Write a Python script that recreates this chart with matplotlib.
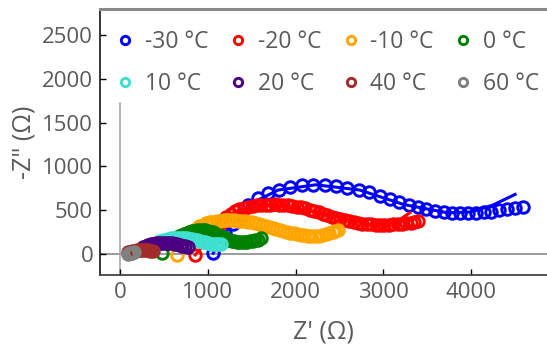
import matplotlib
matplotlib.use("Agg")
import matplotlib.pyplot as plt

plt.rcParams['font.family'] = ['Open Sans', 'DejaVu Sans']

labels = ['-30 °C', '-20 °C', '-10 °C', '0 °C', '10 °C', '20 °C', '40 °C', '60 °C']
colors = ['#0000ff', '#ff0000', '#ffa500', '#008000', '#40e0d0', '#4b0082', '#a52a2a', '#808080']

# measured points, Z' and -Z'' in ohm
zre_m30 = [1060, 1195, 1290, 1380, 1460, 1570, 1690, 1810, 1940, 2070, 2200, 2330, 2460, 2590,
           2720, 2840, 2960, 3070, 3180, 3290, 3390, 3490, 3590, 3690, 3780, 3870, 3960, 4050,
           4140, 4230, 4320, 4410, 4500, 4590]
zim_m30 = [10, 240, 340, 450, 560, 640, 695, 735, 765, 782, 790, 787, 775, 757,
           733, 703, 665, 628, 592, 560, 533, 510, 492, 478, 470, 465, 465, 468,
           474, 484, 497, 510, 522, 533]

zre_m20 = [855, 1105, 1160, 1210, 1260, 1310, 1360, 1410, 1460, 1510, 1560, 1610, 1660, 1710,
           1760, 1810, 1860, 1910, 1960, 2010, 2060, 2110, 2160, 2210, 2260, 2310, 2360, 2410,
           2460, 2510, 2560, 2610, 2660, 2710, 2760, 2810, 2860, 2910, 2960, 3010, 3060, 3110,
           3160, 3210, 3260, 3310, 3350, 3390]
zim_m20 = [-10, 275, 360, 420, 460, 488, 508, 524, 537, 547, 554, 559, 562, 564,
           565, 564, 561, 556, 550, 542, 532, 520, 507, 492, 476, 460, 444, 428,
           413, 399, 386, 375, 365, 356, 348, 342, 337, 334, 333, 333, 335, 338,
           342, 347, 353, 359, 365, 372]

zre_m10 = [650, 780, 820, 860, 900, 940, 980, 1020, 1060, 1100, 1140, 1180, 1220, 1260,
           1300, 1340, 1380, 1420, 1460, 1500, 1540, 1580, 1620, 1660, 1700, 1740, 1780, 1820,
           1860, 1900, 1940, 1980, 2020, 2060, 2100, 2140, 2180, 2220, 2260, 2300, 2340, 2380,
           2420, 2450, 2480]
zim_m10 = [-10, 215, 260, 290, 315, 335, 350, 360, 368, 375, 380, 383, 385, 385,
           384, 382, 379, 375, 369, 362, 354, 345, 335, 325, 313, 300, 289, 278,
           266, 255, 245, 235, 227, 220, 214, 210, 206, 205, 208, 215, 225, 237,
           250, 263, 278]

zre_0 = [480, 580, 610, 640, 670, 700, 730, 760, 790, 820, 850, 880, 910, 940,
         970, 1000, 1030, 1060, 1090, 1120, 1150, 1180, 1210, 1240, 1270, 1300, 1330, 1360,
         1390, 1420, 1450, 1480, 1510, 1540, 1570, 1600]
zim_0 = [10, 135, 160, 182, 200, 216, 230, 243, 254, 262, 268, 272, 274, 273,
         270, 264, 256, 246, 234, 220, 206, 192, 178, 165, 154, 146, 140, 136,
         134, 135, 138, 143, 149, 156, 165, 178]

zre_10 = [340, 370, 400, 430, 460, 490, 520, 550, 580, 610, 640, 670, 700, 730,
          760, 790, 820, 850, 880, 910, 940, 970, 1000, 1030, 1060, 1090, 1120, 1150]
zim_10 = [60, 88, 110, 130, 145, 156, 165, 172, 178, 182, 185, 186, 185, 183,
          180, 176, 170, 163, 155, 148, 140, 132, 125, 120, 115, 112, 110, 112]

zre_20 = [260, 290, 320, 350, 380, 410, 440, 470, 500, 530, 560, 590, 620, 650,
          680, 710, 740, 770]
zim_20 = [80, 95, 105, 113, 120, 125, 128, 130, 130, 130, 128, 124, 120, 113,
          105, 96, 88, 80]

zre_40 = [90, 115, 140, 165, 190, 215, 240, 265, 290, 315, 340, 370]
zim_40 = [20, 28, 35, 40, 45, 47, 48, 47, 45, 41, 38, 35]

zre_60 = [95, 110, 125, 140, 155]
zim_60 = [5, 8, 12, 15, 20]

# fitted curves (only the ends show from under the markers)
fit_re_m30 = [1060, 1200, 1460, 1800, 2230, 2730, 3230, 3730, 4000, 4250, 4500]
fit_im_m30 = [10, 250, 560, 730, 790, 730, 565, 470, 480, 560, 680]
fit_re_m20 = [855, 1100, 1250, 1730, 2290, 2850, 3010, 3150, 3300]
fit_im_m20 = [-10, 280, 460, 565, 465, 337, 333, 370, 470]

zre = [zre_m30, zre_m20, zre_m10, zre_0, zre_10, zre_20, zre_40, zre_60]
zim = [zim_m30, zim_m20, zim_m10, zim_0, zim_10, zim_20, zim_40, zim_60]
fits = {0: (fit_re_m30, fit_im_m30), 1: (fit_re_m20, fit_im_m20)}

txt = '#5a5a5a'

fig = plt.figure(figsize=(5.47, 3.54), dpi=100)
ax = fig.add_axes([0.183, 0.223, 0.817, 0.752])

ax.axhline(0, color='#808080', lw=1.1, zorder=0)
ax.axvline(0, ymin=0, ymax=0.647, color='#a0a0a0', lw=1.1, zorder=0)

handles = []
for i in range(len(labels)):
    h, = ax.plot(zre[i], zim[i], 'o', ms=8.3, mfc='none', mec=colors[i], mew=2.1, label=labels[i])
    handles.append(h)
    if i in fits:
        ax.plot(fits[i][0], fits[i][1], '-', color=colors[i], lw=2.2)

ax.set_xlim(-228, 4863)
ax.set_ylim(-240, 2797)
ax.set_xticks([0, 1000, 2000, 3000, 4000])
ax.set_yticks([0, 500, 1000, 1500, 2000, 2500])

ax.spines['right'].set_visible(False)
ax.spines['left'].set_color('black')
ax.spines['left'].set_linewidth(1.1)
ax.spines['bottom'].set_color('#444444')
ax.spines['bottom'].set_linewidth(1.3)
ax.spines['top'].set_color('#8a8a8a')
ax.spines['top'].set_linewidth(2.2)

ax.tick_params(direction='in', length=4, width=1, labelsize=16, labelcolor=txt, pad=5)
ax.set_xlabel("Z' (Ω)", fontsize=18, color=txt, labelpad=12)
ax.set_ylabel('-Z" (Ω)', fontsize=18, color=txt, labelpad=4)

# legend is filled column by column, so reorder to read row by row
order = [0, 4, 1, 5, 2, 6, 3, 7]
ax.legend([handles[k] for k in order], [labels[k] for k in order],
          loc='upper left', ncol=4, frameon=False, fontsize=16.5, labelcolor=txt,
          markerscale=0.72, handlelength=0.8, handletextpad=0.45, columnspacing=0.9,
          labelspacing=0.8, borderaxespad=0.3, bbox_to_anchor=(0.0, 0.982))

fig.savefig('out.png', dpi=100)
